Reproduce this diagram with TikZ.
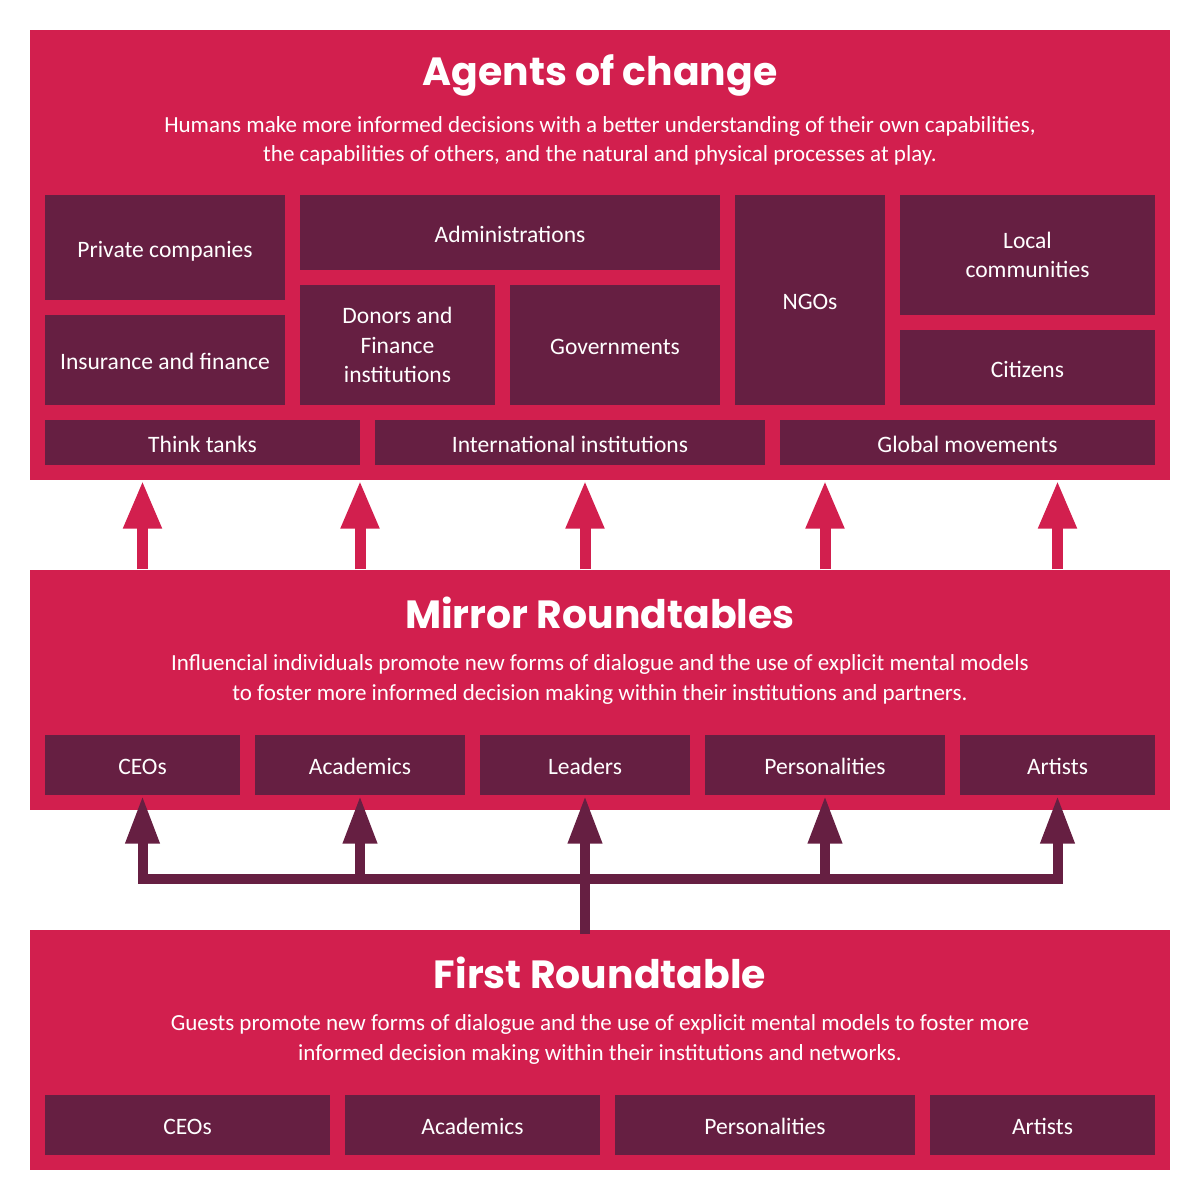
\documentclass[tikz,border=0pt]{standalone}
\usepackage{fontspec}
\setmainfont{Carlito}
\newfontfamily\headfont{Poppins}
\usetikzlibrary{calc,arrows.meta}
\definecolor{rtpink}{RGB}{210,31,78}
\definecolor{rtplum}{RGB}{102,31,66}
\tikzset{
  panel/.style={fill=rtpink, inner sep=0pt, minimum width=11.4cm},
  cell/.style={fill=rtplum, text=white, inner sep=0pt, align=center,
    text height=1.6ex, text depth=0.45ex,
    font=\fontsize{6.7}{8.4}\selectfont},
  multiline/.style={text height=, text depth=},
  paneltitle/.style={text=white, font=\headfont\bfseries\fontsize{11.2}{13}\selectfont},
  paneltext/.style={text=white, align=center, font=\fontsize{6.55}{8.3}\selectfont},
  pinkarrow/.style={draw=rtpink, line width=0.11cm, -{Triangle[length=4.8mm,width=3.6mm]}, rtpink},
  plumarrow/.style={draw=rtplum, line width=0.1cm, -{Triangle[length=4.8mm,width=3.2mm]}, rtplum},
  busline/.style={draw=rtplum, line width=0.1cm, line cap=rect},
}
\begin{document}
\begin{tikzpicture}
\useasboundingbox (0,0) rectangle (12,-12);

% panels
\node[panel, minimum height=4.5cm] (agents) at (6,-2.55) {};
\node[panel, minimum height=2.4cm] (mirror) at (6,-6.9) {};
\node[panel, minimum height=2.4cm] (first) at (6,-10.5) {};

\node[paneltitle] (agentsT) at (6,-0.75) {Agents of change};
\node[paneltext] (agentsD) at (6,-1.405) {Humans make more informed decisions with a better understanding of their own capabilities,\\the capabilities of others, and the natural and physical processes at play.};
\node[paneltitle] (mirrorT) at (6,-6.13) {Mirror Roundtables};
\node[paneltext] (mirrorD) at (6,-6.795) {Influencial individuals promote new forms of dialogue and the use of explicit mental models\\to foster more informed decision making within their institutions and partners.};
\node[paneltitle] (firstT) at (6,-9.73) {First Roundtable};
\node[paneltext] (firstD) at (6,-10.395) {Guests promote new forms of dialogue and the use of explicit mental models to foster more\\informed decision making within their institutions and networks.};

% agents of change
\node[cell, minimum width=2.4cm, minimum height=1.05cm] (priv) at (1.65,-2.475) {Private companies};
\node[cell, minimum width=2.4cm, minimum height=0.9cm] (insur) at (1.65,-3.6) {Insurance and finance};
\node[cell, minimum width=4.2cm, minimum height=0.75cm] (admin) at (5.1,-2.325) {Administrations};
\node[cell, multiline, minimum width=1.95cm, minimum height=1.2cm] (donors) at (3.975,-3.45) {Donors and\\Finance\\institutions};
\node[cell, minimum width=2.1cm, minimum height=1.2cm] (govs) at (6.15,-3.45) {Governments};
\node[cell, minimum width=1.5cm, minimum height=2.1cm] (ngos) at (8.1,-3.0) {NGOs};
\node[cell, multiline, minimum width=2.55cm, minimum height=1.2cm] (local) at (10.275,-2.55) {Local\\communities};
\node[cell, minimum width=2.55cm, minimum height=0.75cm] (citiz) at (10.275,-3.675) {Citizens};
\node[cell, minimum width=3.15cm, minimum height=0.45cm] (think) at (2.025,-4.425) {Think tanks};
\node[cell, minimum width=3.9cm, minimum height=0.45cm] (intl) at (5.7,-4.425) {International institutions};
\node[cell, minimum width=3.75cm, minimum height=0.45cm] (global) at (9.675,-4.425) {Global movements};

% mirror roundtables
\node[cell, minimum width=1.95cm, minimum height=0.6cm] (mceo) at (1.425,-7.65) {CEOs};
\node[cell, minimum width=2.1cm, minimum height=0.6cm] (macad) at (3.6,-7.65) {Academics};
\node[cell, minimum width=2.1cm, minimum height=0.6cm] (mlead) at (5.85,-7.65) {Leaders};
\node[cell, minimum width=2.4cm, minimum height=0.6cm] (mpers) at (8.25,-7.65) {Personalities};
\node[cell, minimum width=1.95cm, minimum height=0.6cm] (mart) at (10.575,-7.65) {Artists};

% first roundtable
\node[cell, minimum width=2.85cm, minimum height=0.6cm] (fceo) at (1.875,-11.25) {CEOs};
\node[cell, minimum width=2.55cm, minimum height=0.6cm] (facad) at (4.725,-11.25) {Academics};
\node[cell, minimum width=3.0cm, minimum height=0.6cm] (fpers) at (7.65,-11.25) {Personalities};
\node[cell, minimum width=2.25cm, minimum height=0.6cm] (fart) at (10.425,-11.25) {Artists};

% arrows up to the agents
\foreach \b in {mceo,macad,mlead,mpers,mart}
  \draw[pinkarrow] (mirror.north -| \b) -- (agents.south -| \b);

% bus from the first roundtable
\coordinate (bus) at (0,-8.79);
\draw[busline] (first.north -| mlead) -- (mlead |- bus);
\draw[busline] (mceo |- bus) -- (mart |- bus);
\foreach \b in {mceo,macad,mlead,mpers,mart}
  \draw[plumarrow] (\b |- bus) -- (\b.south);
\end{tikzpicture}
\end{document}
